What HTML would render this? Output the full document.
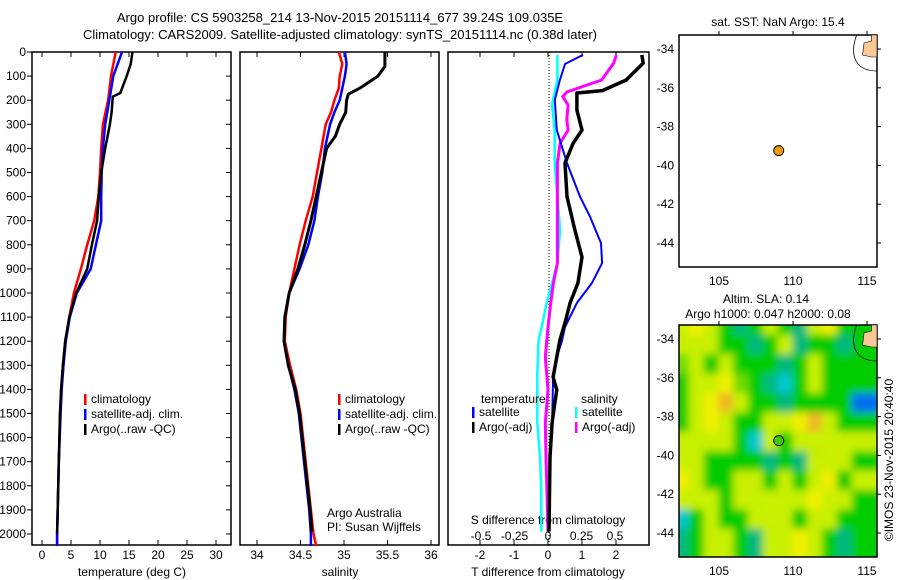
<!DOCTYPE html>
<html><head><meta charset="utf-8">
<style>
html,body{margin:0;padding:0;background:#fff;}
svg{display:block;font-family:"Liberation Sans",sans-serif;}
text{font-size:12px;fill:#000;}
</style></head>
<body>
<svg id="fig" width="900" height="580" viewBox="0 0 900 580">
<defs>
<filter id="blur" x="0" y="0" width="1" height="1"><feGaussianBlur stdDeviation="4"/></filter>
<clipPath id="mapclip"><rect x="679" y="325" width="198" height="232"/></clipPath>
</defs>
<text x="340" y="22" text-anchor="middle" style="font-size:13px">Argo profile: CS 5903258_214 13-Nov-2015 20151114_677 39.24S 109.035E</text>
<text x="340" y="39" text-anchor="middle" style="font-size:13px">Climatology: CARS2009. Satellite-adjusted climatology: synTS_20151114.nc (0.38d later)</text>
<g id="g"></g>
</svg>
<script>
// ---- data ----
const depthTicks=[0,100,200,300,400,500,600,700,800,900,1000,1100,1200,1300,1400,1500,1600,1700,1800,1900,2000];
const tempTicks=[0,5,10,15,20,25,30];
const salTicks=[34,34.5,35,35.5,36];
const salTickLabels=["34","34.5","35","35.5","36"];
const tdTicks=[-2,-1,0,1,2];
const sdTicks=[-0.5,-0.25,0,0.25,0.5];
const sdTickLabels=["-0.5","-0.25","0","0.25","0.5"];

const tDepth=[0,100,200,300,400,500,600,700,800,900,1000,1100,1200,1300,1400,1500,1700,1900,2000,2050];
const tClim=[12.7,11.9,11.4,10.5,10.2,10.0,9.7,9.0,7.8,6.7,5.5,4.7,4.0,3.6,3.3,3.1,2.9,2.7,2.6,2.6];
const tSat=[13.8,12.3,11.6,10.9,10.5,10.3,10.2,10.2,9.3,8.4,6.0,4.8,4.1,3.7,3.4,3.2,2.9,2.7,2.6,2.6];
const tArgoDepth=[0,50,100,170,185,250,300,400,500,600,700,800,900,1000,1100,1200,1300,1400,1500,1700,1900,2000];
const tArgo=[15.6,15.3,14.6,13.5,12.2,12.0,11.7,10.9,10.2,9.8,9.5,8.6,7.8,5.9,4.7,4.0,3.6,3.3,3.1,2.9,2.7,2.6];

const sDepth=[0,50,100,150,200,250,300,400,500,600,700,800,900,1000,1100,1200,1300,1400,1500,1600,1700,1800,1900,2000,2050];
const sClim=[34.94,34.98,34.95,34.94,34.89,34.85,34.79,34.74,34.69,34.64,34.56,34.49,34.43,34.37,34.33,34.32,34.38,34.45,34.50,34.53,34.56,34.59,34.62,34.65,34.68];
const sSat=[35.01,35.03,35.01,34.98,34.95,34.89,34.84,34.78,34.75,34.70,34.66,34.59,34.49,34.37,34.32,34.31,34.36,34.43,34.48,34.51,34.54,34.57,34.60,34.62,34.62];
const sArgoDepth=[0,60,100,150,175,200,250,300,350,400,500,600,700,800,900,1000,1100,1200,1300,1400,1500,1600,1700,1800,1900,1990];
const sArgo=[35.47,35.47,35.39,35.18,35.05,35.03,35.02,34.95,34.90,34.80,34.74,34.68,34.62,34.55,34.47,34.37,34.32,34.31,34.36,34.44,34.49,34.52,34.55,34.58,34.61,34.63];

const dTDepth=[12,50,116,199,324,461,600,685,793,876,959,1041,1141,1200,1265,1349,1539,1680,1888,1990];
const dTSat=[1.03,0.5,0.35,0.2,0.26,0.56,0.94,1.24,1.56,1.59,1.29,0.85,0.5,0.41,0.26,0.15,0.12,0.06,0.03,0.02];
const dTArgoDepth=[12,46,116,160,170,241,324,378,461,600,739,851,959,1041,1124,1195,1265,1349,1402,1457,1539,1680,1990];
const dTArgo=[2.76,2.8,2.3,1.6,0.85,0.85,1.0,0.74,0.5,0.56,0.79,1.0,0.88,0.65,0.5,0.35,0.26,0.15,0.26,0.2,0.12,0.06,0.03];
const dSDepth=[12,116,220,324,461,600,739,876,959,1041,1124,1195,1334,1539,1680,1818,1990];
const dSSat=[0.07,0.07,0.03,0.05,0.05,0.07,0.09,0.07,0.03,-0.01,-0.04,-0.07,-0.08,-0.08,-0.06,-0.05,-0.05];
const dSArgoDepth=[12,46,116,166,185,220,280,324,378,461,600,876,959,1041,1141,1265,1402,1539,1680,1990];
const dSArgo=[0.51,0.49,0.40,0.14,0.11,0.15,0.14,0.15,0.09,0.07,0.07,0.07,0.04,0.02,0,-0.02,0,-0.02,-0.015,0];

const lonTicks=[105,110,115];
const latTicks=[-34,-36,-38,-40,-42,-44];
const floatLon=[109.035];
const floatLat=[-39.24];
// SLA heatmap levels, rows from lat -33.3 southward, cols from lon 102.5 eastward (1 deg)
const slaGrid=[
[1,2,1,-1,-2,-1,1,-1,-2,1,2,-1,-1],
[1,1,1,-1,-1,-2,-1,1,-2,-1,-1,-2,-1],
[0,1,-1,1,-1,-1,-1,-2,-1,1,-1,-1,-1],
[-1,1,1,2,0,-1,-2,-3,-1,1,-1,-1,-1],
[-1,1,2,3,1,-1,-1,-2,-1,-1,-1,-1,-4],
[-1,1,2,1,-1,-1,1,1,2,3,1,-1,-1],
[1,1,1,1,-1,-3,1,-1,1,1,1,1,1],
[1,1,-1,-1,-1,-1,-2,-1,-2,1,1,1,-1],
[2,1,-1,-1,1,1,-1,1,-1,1,2,-1,1],
[1,1,1,-1,1,1,1,1,1,2,1,1,-1],
[-3,-1,1,-1,-1,1,1,1,-1,1,1,-1,-1],
[-2,-1,1,1,-1,-2,1,1,2,1,-1,-2,-1]];

// ---- drawing ----
const NS="http://www.w3.org/2000/svg";
const G=document.getElementById('g');
function mk(tag,attrs,parent){const e=document.createElementNS(NS,tag);for(const k in attrs)e.setAttribute(k,attrs[k]);(parent||G).appendChild(e);return e;}
const Y=d=>52+d*0.241;
const PB=545;
const xT=v=>42+v*5.8, xS=v=>257+(v-34)*87, xTD=v=>548+v*34, xSD=v=>548+v*134;

function panel(name,x0,x1){
  const r=mk('rect',{x:x0,y:52,width:x1-x0,height:PB-52,fill:'none',stroke:'#000','stroke-width':1.5});
  
  
}
function line(name,xs,ds,fx,color,w){
  const p=xs.map((v,i)=>(i?'L':'M')+fx(v).toFixed(1)+','+Y(ds[i]).toFixed(1)).join('');
  const e=mk('path',{d:p,fill:'none',stroke:color,'stroke-width':w,'stroke-linejoin':'round'});
  
  
}
function txt(name,x,y,s,anchor,size){
  const t=mk('text',{x:x,y:y,'text-anchor':anchor||'start'});
  if(size)t.style.fontSize=size+'px';
  t.textContent=s;
  
  
  return t;
}
function xticks(ticks,labels,fx,name){
  ticks.forEach((v,i)=>{
    const x=fx(v);
    mk('line',{x1:x,x2:x,y1:52,y2:57,stroke:'#000'});
    mk('line',{x1:x,x2:x,y1:PB,y2:PB-5,stroke:'#000'});
    if(labels) txt(name+'-tick-label',x,559,labels[i],'middle');
  });
}
panel('temperature-panel',32,231);
panel('salinity-panel',240,439);
panel('difference-panel',448,649);
depthTicks.forEach(d=>{
  mk('line',{x1:27,x2:32,y1:Y(d),y2:Y(d),stroke:'#000'});
  mk('line',{x1:231,x2:226,y1:Y(d),y2:Y(d),stroke:'#000'});
  txt('depth-tick-label',26,Y(d)+4,String(d),'end');
});
xticks(tempTicks,tempTicks.map(String),xT,'temperature');
xticks(salTicks,salTickLabels,xS,'salinity');
xticks(tdTicks,tdTicks.map(String),xTD,'t-difference');
sdTicks.forEach((v,i)=>txt('s-difference-tick-label',xSD(v),540,sdTickLabels[i],'middle'));
txt('temperature-axis-title',132,576,'temperature (deg C)','middle');
txt('salinity-axis-title',340,576,'salinity','middle');
txt('t-difference-axis-title',548,576,'T difference from climatology','middle');
txt('s-difference-axis-title',548,524,'S difference from climatology','middle');
mk('line',{x1:549,x2:549,y1:52,y2:PB,stroke:'#000','stroke-dasharray':'1,2'});
line('temp-climatology-line',tClim,tDepth,xT,'#f00',2.5);
line('temp-satellite-line',tSat,tDepth,xT,'#00f',2.5);
line('temp-argo-line',tArgo,tArgoDepth,xT,'#000',2.5);
line('sal-climatology-line',sClim,sDepth,xS,'#f00',2.5);
line('sal-satellite-line',sSat,sDepth,xS,'#00f',2.5);
line('sal-argo-line',sArgo,sArgoDepth,xS,'#000',3);
line('s-diff-satellite-line',dSSat,dSDepth,xSD,'#0ff',2.5);
line('s-diff-argo-line',dSArgo,dSArgoDepth,xSD,'#f0f',3);
line('t-diff-satellite-line',dTSat,dTDepth,xTD,'#00f',2);
line('t-diff-argo-line',dTArgo,dTArgoDepth,xTD,'#000',3.5);
function leg(name,x,y,color,label){
  mk('rect',{x:x,y:y-9,width:2.5,height:11,fill:color});
  txt(name,x+7,y,label);
}
[[84,'#f00','climatology'],[84,'#00f','satellite-adj. clim.'],[84,'#000','Argo(..raw -QC)']].forEach((l,i)=>leg('temp-legend-entry',l[0],403+i*15,l[1],l[2]));
[[338,'#f00','climatology'],[338,'#00f','satellite-adj. clim.'],[338,'#000','Argo(..raw -QC)']].forEach((l,i)=>leg('sal-legend-entry',l[0],403+i*15,l[1],l[2]));
txt('legend-temperature-heading',481,403,'temperature');
txt('legend-salinity-heading',581,403,'salinity');
leg('diff-legend-entry',472,416,'#00f','satellite');
leg('diff-legend-entry',472,431,'#000','Argo(-adj)');
leg('diff-legend-entry',575,416,'#0ff','satellite');
leg('diff-legend-entry',575,431,'#f0f','Argo(-adj)');
txt('credit-argo-australia',327,517,'Argo Australia');
txt('credit-pi',327,531,'PI: Susan Wijffels');

const mx=v=>719+(v-105)*14.8;
function mapFrame(name,top){
  const my=v=>top+14+(-34-v)*19.4;
  const r=mk('rect',{x:679,y:top,width:198,height:232,fill:'none',stroke:'#000','stroke-width':1.5});
  
  
  lonTicks.forEach(v=>{
    mk('line',{x1:mx(v),x2:mx(v),y1:top,y2:top-4,stroke:'#000'});
    txt('lon-tick-label',mx(v),top+250,String(v),'middle');
  });
  latTicks.forEach(v=>{
    mk('line',{x1:877,x2:881,y1:my(v),y2:my(v),stroke:'#000'});
    txt('lat-tick-label',674,my(v)+4,String(v),'end');
  });
  const c=mk('path',{d:`M${mx(114.8)},${top+8} L${mx(115.3)},${top+6} L${mx(115.3)},${top} L877,${top} L877,${top+22} L${mx(115.3)},${top+22} L${mx(114.7)},${top+20} Z`,fill:'#fdc895',stroke:'#000','stroke-width':0.6});
  
  
  const k=mk('path',{d:`M${mx(114.3)},${top} C${mx(113.8)},${top+20} ${mx(114.2)},${top+36} 877,${top+36}`,fill:'none',stroke:'#000','stroke-width':0.8});
  
  
  return my;
}
const colors={"-4":"#0070f0","-3":"#00c8d0","-2":"#00b880","-1":"#00cc00","0":"#70dc00","1":"#c8f000","2":"#f0f000","3":"#f0b820"};
const hm=mk('g',{'clip-path':'url(#mapclip)'});
const hmb=mk('g',{filter:'url(#blur)'},hm);
const my2=v=>325+14+(-34-v)*19.4;
slaGrid.forEach((row,r)=>row.forEach((v,c)=>{
  const e=mk('rect',{x:mx(102.5+c)-8,y:my2(-33.3-r)-10,width:14.8+16,height:19.4+20,fill:colors[v]},hmb);
  
  
}));
const my1=mapFrame('sst-map',35);
mapFrame('sla-map',325);
txt('sst-map-title',778,26,'sat. SST: NaN Argo: 15.4','middle');
txt('sla-map-title',766,303,'Altim. SLA: 0.14','middle');
txt('sla-map-subtitle',768,318,'Argo h1000: 0.047 h2000: 0.08','middle');
const d1=mk('circle',{cx:mx(floatLon[0]),cy:my1(floatLat[0]),r:5,fill:'#f39c00',stroke:'#000'});


const d2=mk('circle',{cx:mx(floatLon[0]),cy:my2(floatLat[0]),r:5,fill:'#3ccc00',stroke:'#000'});


const cr=txt('imos-credit',0,0,'©IMOS 23-Nov-2015 20:40:40','middle');
cr.setAttribute('transform','translate(893,460) rotate(-90)');
</script>
</body></html>
